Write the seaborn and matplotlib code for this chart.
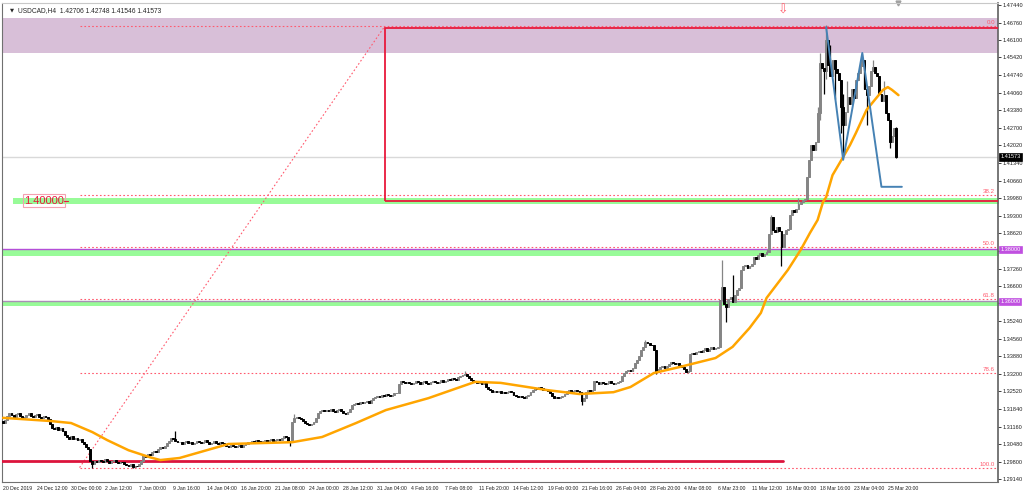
import matplotlib
matplotlib.use("Agg")
import matplotlib.pyplot as plt
import matplotlib.transforms as mtransforms
from matplotlib.patches import Rectangle
import seaborn as sns
import numpy as np
import pandas as pd

# --- data (20 Dec 2019 .. 25 Mar 2020) ---
header_text = "USDCAD,H4  1.42706 1.42748 1.41546 1.41573"

first_open = 1.3138
closes = [
    1.3130, 1.3142, 1.3158, 1.3169,
    1.3160, 1.3150, 1.3163, 1.3168, 1.3157, 1.3148, 1.3155, 1.3162, 1.3170, 1.3158,
    1.3152, 1.3160, 1.3164, 1.3155, 1.3150, 1.3158, 1.3153, 1.3146,
    1.3125, 1.3112, 1.3108, 1.3115, 1.3104, 1.3110, 1.3098,
    1.3085, 1.3076, 1.3070, 1.3078, 1.3068, 1.3074, 1.3066, 1.3070, 1.3058, 1.3048,
    1.3037, 1.3030,
    1.2985, 1.2972,
    1.2982, 1.2978, 1.2988, 1.2984, 1.2979, 1.2990, 1.2985, 1.2977, 1.2983, 1.2987,
    1.2981, 1.2975, 1.2980, 1.2978, 1.2972, 1.2968, 1.2965, 1.2970, 1.2962, 1.2966,
    1.2964, 1.2970, 1.2985, 1.3006,
    1.3000, 1.3012, 1.3008, 1.3018, 1.3022, 1.3018,
    1.3028, 1.3037, 1.3033, 1.3040,
    1.3052, 1.3060, 1.3072, 1.3068,
    1.3062, 1.3055, 1.3058, 1.3050, 1.3056, 1.3061, 1.3053, 1.3057, 1.3049, 1.3054,
    1.3060, 1.3056, 1.3051, 1.3058, 1.3063, 1.3055, 1.3050, 1.3054, 1.3059, 1.3052,
    1.3048, 1.3055, 1.3051, 1.3046,
    1.3043, 1.3038, 1.3045, 1.3040, 1.3036, 1.3042, 1.3047, 1.3039, 1.3044, 1.3050,
    1.3055, 1.3058,
    1.3062, 1.3057, 1.3064, 1.3060, 1.3055, 1.3061, 1.3066, 1.3058, 1.3063, 1.3068,
    1.3060, 1.3065, 1.3070, 1.3066, 1.3074, 1.3080, 1.3076,
    1.3062, 1.3056,
    1.3135, 1.3148, 1.3155, 1.3150, 1.3146,
    1.3138, 1.3130, 1.3126, 1.3122, 1.3128, 1.3133,
    1.3150, 1.3168, 1.3176, 1.3180, 1.3175, 1.3182, 1.3178, 1.3184, 1.3176, 1.3172,
    1.3180, 1.3185, 1.3177, 1.3170,
    1.3166, 1.3172, 1.3186, 1.3198, 1.3205,
    1.3208, 1.3202, 1.3210, 1.3206, 1.3212, 1.3215, 1.3209, 1.3218, 1.3225, 1.3230,
    1.3236, 1.3232, 1.3240, 1.3236, 1.3242, 1.3238, 1.3234, 1.3240, 1.3246, 1.3244,
    1.3282, 1.3292, 1.3288, 1.3284, 1.3290, 1.3286, 1.3280, 1.3285, 1.3291, 1.3287,
    1.3282, 1.3288, 1.3293, 1.3286, 1.3281, 1.3287, 1.3292, 1.3289, 1.3284, 1.3290,
    1.3295, 1.3288, 1.3293,
    1.3300, 1.3296, 1.3304, 1.3300, 1.3298, 1.3306, 1.3310, 1.3315,
    1.3318, 1.3310, 1.3303, 1.3298, 1.3292, 1.3289,
    1.3283, 1.3287, 1.3280, 1.3284, 1.3270, 1.3260,
    1.3257, 1.3250, 1.3253, 1.3248, 1.3252, 1.3246, 1.3250, 1.3244, 1.3249, 1.3255,
    1.3248, 1.3240, 1.3236, 1.3232, 1.3236, 1.3230, 1.3228, 1.3234,
    1.3240, 1.3248, 1.3258, 1.3265, 1.3262, 1.3268, 1.3264, 1.3258, 1.3262, 1.3255,
    1.3245, 1.3235, 1.3228, 1.3232, 1.3226, 1.3230, 1.3236, 1.3242,
    1.3252, 1.3256, 1.3250, 1.3254, 1.3258, 1.3252, 1.3248, 1.3215,
    1.3225, 1.3250, 1.3256, 1.3252, 1.3258, 1.3292,
    1.3288, 1.3282, 1.3290, 1.3286, 1.3280, 1.3285, 1.3292, 1.3286, 1.3280, 1.3284,
    1.3289, 1.3294,
    1.3310, 1.3323, 1.3330, 1.3335, 1.3330, 1.3342, 1.3360, 1.3373, 1.3390, 1.3412,
    1.3425, 1.3443, 1.3438,
    1.3432, 1.3430, 1.3412, 1.3327,
    1.3340, 1.3346, 1.3352, 1.3344, 1.3350, 1.3358, 1.3366, 1.3360, 1.3356, 1.3362,
    1.3354,
    1.3345, 1.3338, 1.3328, 1.3332,
    1.3398, 1.3402, 1.3396, 1.3405, 1.3410, 1.3403, 1.3412, 1.3418, 1.3410, 1.3415,
    1.3422, 1.3416, 1.3420, 1.3425,
    1.3605, 1.3655, 1.3590, 1.3578, 1.3610, 1.3617, 1.3598, 1.3625, 1.3644, 1.3650,
    1.3721, 1.3735, 1.3741, 1.3728, 1.3738, 1.3745,
    1.3772, 1.3765, 1.3780, 1.3787, 1.3775, 1.3782, 1.3790,
    1.3860, 1.3925, 1.3875, 1.3868, 1.3885, 1.3870, 1.3810,
    1.3860, 1.3875, 1.3880,
    1.3935, 1.3952, 1.3945, 1.3958, 1.3975,
    1.3985, 1.3991, 1.3995,
    1.4080, 1.4146,
    1.4204, 1.4185, 1.4215,
    1.4327,
    1.4520, 1.4501, 1.4490,
    1.4610,
    1.4512, 1.4470, 1.4530, 1.4495,
    1.4480, 1.4454, 1.4350,
    1.4280,
    1.4330, 1.4389, 1.4360, 1.4420, 1.4385,
    1.4454, 1.4480, 1.4510,
    1.4530,
    1.4420, 1.4395, 1.4430,
    1.4490, 1.4505, 1.4480, 1.4470,
    1.4400, 1.4375, 1.4395, 1.4327,
    1.4300,
    1.4215,
    1.4240, 1.4270,
    1.41573,
]

open_fix = {420: 1.42706}
high_fix = {81: 1.3100, 137: 1.3165, 217: 1.3330, 302: 1.3450, 338: 1.3760,
            343: 1.3700, 359: 1.3800, 361: 1.3935, 374: 1.4000, 383: 1.4350,
            384: 1.4560, 387: 1.4667, 389: 1.4590, 395: 1.4400, 397: 1.4450,
            404: 1.4555, 409: 1.4530, 414: 1.4450, 420: 1.42748}
low_fix = {42: 1.2956, 61: 1.2955, 135: 1.3040, 272: 1.3200, 307: 1.3320,
           322: 1.3325, 340: 1.3520, 366: 1.3735, 384: 1.4300, 386: 1.4400,
           387: 1.4460, 391: 1.4380, 394: 1.4250, 395: 1.4160, 406: 1.4280,
           417: 1.4190, 420: 1.41546}

ma_bars = [0, 22, 32, 42, 49, 59, 69, 74, 83, 106, 136, 150, 166, 180, 200, 222,
           234, 256, 271, 287, 295, 306, 318, 335, 343, 351, 356.3, 359, 369, 375,
           379.4, 383, 385.5, 387, 390, 395, 398.2, 401, 406, 411, 413.7, 416, 418, 421]
ma_vals = [1.3150, 1.3138, 1.3130, 1.3095, 1.3064, 1.3025, 1.2998, 1.2987, 1.2995,
           1.3049, 1.3056, 1.3076, 1.3130, 1.3180, 1.3226, 1.3289, 1.3285, 1.3257,
           1.3242, 1.3249, 1.3269, 1.3323, 1.3346, 1.3381, 1.3424, 1.3497, 1.3555,
           1.3613, 1.3721, 1.3798, 1.3864, 1.3914, 1.3983, 1.4002, 1.4087, 1.4157,
           1.4203, 1.4250, 1.4339, 1.4389, 1.4416, 1.4427, 1.4416, 1.4396]

zig_bars = [387, 395, 404, 413, 422.6]
zig_vals = [1.4659, 1.4146, 1.4559, 1.4042, 1.4042]

fib_bars = [36, 179.5]
fib_low, fib_high = 1.2958, 1.4662
fib_levels = [0.0, 38.2, 50.0, 61.8, 78.6, 100.0]

rect_left, rect_bottom, rect_top = 179.5, 1.3987, 1.4655
zone_band = (1.4559, 1.4694)
green_bands = [(1.3974, 1.4000, 4.7), (1.3775, 1.3797, -1), (1.3581, 1.3598, -1)]
support_line = 1.2983
support_end = 366.7
bid_price = 1.41573

x_labels = ["20 Dec 2019", "24 Dec 12:00", "30 Dec 00:00", "2 Jan 12:00", "7 Jan 00:00",
            "9 Jan 16:00", "14 Jan 04:00", "16 Jan 20:00", "21 Jan 08:00", "24 Jan 00:00",
            "28 Jan 12:00", "31 Jan 04:00", "4 Feb 16:00", "7 Feb 08:00", "11 Feb 20:00",
            "14 Feb 12:00", "19 Feb 00:00", "21 Feb 16:00", "26 Feb 04:00", "28 Feb 20:00",
            "4 Mar 08:00", "6 Mar 23:00", "11 Mar 12:00", "16 Mar 00:00", "18 Mar 16:00",
            "23 Mar 04:00", "25 Mar 20:00"]
y_labels = ["1.29140", "1.29800", "1.30480", "1.31160", "1.31840", "1.32520", "1.33200",
            "1.33880", "1.34560", "1.35240", "1.35920", "1.36600", "1.37260", "1.37940",
            "1.38620", "1.39300", "1.39980", "1.40660", "1.41340", "1.42020", "1.42700",
            "1.43380", "1.44060", "1.44740", "1.45420", "1.46100", "1.46760", "1.47440"]
hidden_y = {"1.35920", "1.37940"}

# --- build candles ---
n = len(closes)
opens = [first_open] + closes[:-1]
for k, v in open_fix.items():
    opens[k] = v
df = pd.DataFrame({"bar": np.arange(n), "open": opens, "close": closes})
df["high"] = df[["open", "close"]].max(axis=1)
df["low"] = df[["open", "close"]].min(axis=1)
for k, v in high_fix.items():
    df.loc[k, "high"] = v
for k, v in low_fix.items():
    df.loc[k, "low"] = v
df["up"] = df["close"] >= df["open"]

sns.set_style("white")
plt.rcParams["font.family"] = ["Liberation Sans", "DejaVu Sans"]

fig = plt.figure(figsize=(10.24, 4.94), dpi=100)
ax = fig.add_axes([2 / 1024, 12 / 494, 996 / 1024, 479 / 494])
ax.set_xlim(-0.47, 467.8)
ax.set_ylim(1.29023, 1.47517)
blend = mtransforms.blended_transform_factory(ax.transAxes, ax.transData)

# background zones
ax.axhspan(*zone_band, color="#d8bfd8", zorder=0, lw=0)
for lo, hi, start in green_bands:
    ax.fill_between([start, 480], lo, hi, color="#98fb98", lw=0, zorder=0)
ax.axhline(1.3800, color="#b44fd8", lw=1.0, zorder=1)
ax.axhline(1.3600, color="#a98fb5", lw=1.0, zorder=1)
ax.axhline(bid_price, color="#d9d9d9", lw=1.0, zorder=1)

# fibonacci
fib_col = "#ff5a6e"
ax.plot(fib_bars, [fib_low, fib_high], color=fib_col, lw=0.8, ls=(0, (1.5, 2)), zorder=2)
for lv in fib_levels:
    price = fib_high - (fib_high - fib_low) * lv / 100
    ax.plot([fib_bars[0], 480], [price, price], color=fib_col, lw=0.8, ls=(0, (1.5, 2)), zorder=2)
    ax.text(0.997, price + 0.0004, f"{lv:.1f}", transform=blend, ha="right", va="bottom",
            fontsize=4.4, color=fib_col)

# rectangle and support line
ax.add_patch(Rectangle((rect_left, rect_bottom), 400, rect_top - rect_bottom, fill=False,
                       edgecolor="#e8193c", lw=1.3, zorder=3))
ax.plot([-1, support_end], [support_line, support_line], color="#dc143c", lw=2.0, zorder=3)

# candles
for up, col in [(True, "#858585"), (False, "#000000")]:
    d = df[df["up"] == up]
    ax.vlines(d["bar"], d["low"], d["high"], colors=col, lw=0.9, zorder=4)
    ax.bar(d["bar"], d["close"] - d["open"], bottom=d["open"], width=0.85, color=col,
           edgecolor=col, lw=0.7, zorder=4)

# moving average and pattern lines
ma_df = pd.DataFrame({"bar": ma_bars, "ma": ma_vals})
sns.lineplot(data=ma_df, x="bar", y="ma", color="#ffa500", lw=1.8, ax=ax, zorder=5)
zig_df = pd.DataFrame({"bar": zig_bars, "price": zig_vals})
sns.lineplot(data=zig_df, x="bar", y="price", color="#4682b4", lw=1.4, sort=False,
             ax=ax, zorder=6)

# labels / markers
ax.text(9.9, 1.3988, "1.40000", fontsize=8, color="#e8193c", ha="left", va="center",
        bbox=dict(boxstyle="square,pad=0.12", fc="none", ec="#f4a0b0", lw=0.8), zorder=7)
ax.plot([28.6, 30.4], [1.3988, 1.3988], color="#e8193c", lw=0.8, zorder=7)
ax.text(366.7, 1.4723, "\u21e9", fontsize=9, color="#ff6070", ha="center", va="center",
        family=["DejaVu Sans"])
ax.plot([421], [1.47517], marker="v", color="#a0a0a0", ms=3.5, clip_on=False)

ax.text(0.008, 0.99, "\u25bc", transform=ax.transAxes, fontsize=3.8, va="top", ha="left",
        family=["DejaVu Sans"])
ax.text(0.016, 0.992, header_text, transform=ax.transAxes, fontsize=4.8, va="top", ha="left")

# axes
ax.set_xticks(range(0, 16 * len(x_labels), 16))
ax.set_xticklabels(x_labels, ha="left", fontsize=3.7)
ax.set_yticks([float(s) for s in y_labels])
ax.set_yticklabels(["" if s in hidden_y else s for s in y_labels], fontsize=4.0)
ax.yaxis.tick_right()
ax.tick_params(axis="both", length=2, width=0.6, pad=1.0, colors="#202020")
ax.set_xlabel("")
ax.set_ylabel("")
for side, sp in ax.spines.items():
    sp.set_visible(True)
    sp.set_color("#707070")
    sp.set_linewidth(0.8)
ax.spines["right"].set_linewidth(1.2)
ax.spines["right"].set_color("#606060")
ax.spines["top"].set_color("#c8c8c8")

for price, txt, bg in [(bid_price, "1.41573", "#000000"), (1.3800, "1.38000", "#c050e0"),
                       (1.3600, "1.36000", "#c050e0")]:
    ax.text(1.0022, price, txt, transform=blend, fontsize=4.0, color="white", ha="left",
            va="center", clip_on=False,
            bbox=dict(boxstyle="square,pad=0.2", fc=bg, ec=bg, lw=0.5))

fig.savefig("out.png", dpi=100)
